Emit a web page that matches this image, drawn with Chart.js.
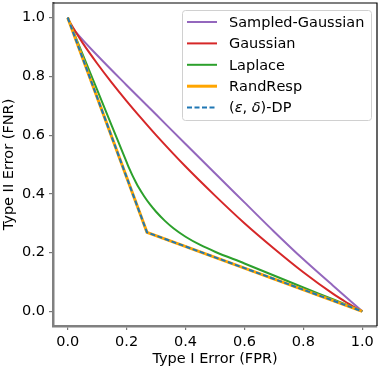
<!DOCTYPE html>
<html lang="en">
<head>
    <meta charset="UTF-8">
    <script src="https://cdn.jsdelivr.net/npm/chart.js"></script>
    <title>Trade-off curves</title>
    <style>
      body { margin: 0; background: #fff; }
      #wrap { width: 380px; height: 368px; }
    </style>
</head>
<body>
    <div id="wrap">
      <canvas id="myChart" width="380" height="368"></canvas>
    </div>

    <script>
      // values
      const sgX = [0, 0.01, 0.03, 0.1, 0.2, 0.3, 0.4, 0.5, 0.6, 0.7, 0.8, 0.9, 1];
      const sgY = [1, 0.975, 0.948, 0.872, 0.770, 0.670, 0.570, 0.470, 0.371, 0.272, 0.177, 0.088, 0];

      const gaussX = [0, 0.005, 0.01, 0.02, 0.05, 0.1, 0.15, 0.2, 0.25, 0.3, 0.4, 0.5, 0.6, 0.7, 0.8, 0.9, 0.95, 0.98, 0.99, 1];
      const gaussY = [1, 0.989, 0.980, 0.963, 0.915, 0.844, 0.778, 0.716, 0.657, 0.600, 0.493, 0.394, 0.300, 0.214, 0.133, 0.060, 0.028, 0.010, 0.005, 0];

      const lapX = [0, 0.05, 0.1, 0.15, 0.2, 0.21, 0.22, 0.23, 0.24, 0.26, 0.28, 0.3, 0.33, 0.36, 0.4, 0.45, 0.5, 0.6, 0.7, 0.8, 0.9, 1];
      const lapY = [1, 0.877, 0.754, 0.631, 0.508, 0.484, 0.462, 0.442, 0.423, 0.391, 0.363, 0.339, 0.308, 0.282, 0.254, 0.226, 0.203, 0.163, 0.122, 0.081, 0.041, 0];

      const rrX = [0, 0.269, 1];
      const rrY = [1, 0.269, 0];

      const dpX = [0, 0.269, 1];
      const dpY = [1, 0.269, 0];

      const xTicks = [0, 0.2, 0.4, 0.6, 0.8, 1.0];
      const yTicks = [0, 0.2, 0.4, 0.6, 0.8, 1.0];

      const seriesNames = ['Sampled-Gaussian', 'Gaussian', 'Laplace', 'RandResp', '(\u03b5, \u03b4)-DP'];
      const seriesColors = ['#9467bd', '#d62728', '#2ca02c', '#ffa500', '#1f77b4'];

      function pts(xs, ys) {
        return xs.map((x, i) => ({ x: x, y: ys[i] }));
      }

      const FONT = 'DejaVu Sans';
      Chart.defaults.font.family = FONT;
      Chart.defaults.color = '#000';

      // top and right spines
      const frame = {
        id: 'frame',
        afterDatasetsDraw(chart) {
          const { ctx, chartArea: a } = chart;
          ctx.save();
          ctx.strokeStyle = '#000';
          ctx.lineWidth = 1.2;
          ctx.beginPath();
          ctx.moveTo(a.left, a.top);
          ctx.lineTo(a.right, a.top);
          ctx.lineTo(a.right, a.bottom);
          ctx.stroke();
          ctx.restore();
        }
      };

      // greek letters are set in italic like matplotlib mathtext
      function drawLabel(ctx, text, x, y) {
        let cx = x;
        for (const ch of text) {
          const greek = /[\u0370-\u03ff]/.test(ch);
          ctx.font = (greek ? 'italic ' : '') + '14.5px "' + FONT + '"';
          ctx.fillText(ch, cx, y);
          cx += ctx.measureText(ch).width;
        }
      }

      // legend box in the upper right corner of the plot
      const legendBox = {
        id: 'legendBox',
        afterDraw(chart) {
          const ctx = chart.ctx;
          const a = chart.chartArea;
          const w = 189, h = 110;
          const x0 = a.right - 6 - w, y0 = a.top + 7;
          ctx.save();
          ctx.fillStyle = 'rgba(255,255,255,0.85)';
          ctx.strokeStyle = '#d0d0d0';
          ctx.lineWidth = 1;
          ctx.beginPath();
          ctx.roundRect(x0 + 0.5, y0 + 0.5, w, h, 3);
          ctx.fill();
          ctx.stroke();
          ctx.textBaseline = 'middle';
          ctx.fillStyle = '#000';
          chart.data.datasets.forEach((ds, i) => {
            const y = y0 + 12 + i * 21.4;
            ctx.strokeStyle = ds.borderColor;
            ctx.lineWidth = ds.borderWidth;
            ctx.setLineDash(ds.borderDash || []);
            ctx.beginPath();
            ctx.moveTo(x0 + 5, y);
            ctx.lineTo(x0 + 35, y);
            ctx.stroke();
            ctx.setLineDash([]);
            drawLabel(ctx, ds.label, x0 + 47, y + 1);
          });
          ctx.restore();
        }
      };

      const axisCommon = {
        type: 'linear',
        min: -0.05,
        max: 1.05,
        grid: { drawOnChartArea: false, drawTicks: true, tickLength: 4, color: '#777', lineWidth: 1.2 },
        border: { display: true, color: '#808080', width: 2.5 },
        ticks: { font: { size: 14.5 }, color: '#000', padding: 4, callback: (v) => v.toFixed(1) }
      };

      new Chart(document.getElementById('myChart'), {
        type: 'line',
        data: {
          datasets: [
            { label: seriesNames[0], data: pts(sgX, sgY), borderColor: seriesColors[0], borderWidth: 2, cubicInterpolationMode: 'monotone', order: 5 },
            { label: seriesNames[1], data: pts(gaussX, gaussY), borderColor: seriesColors[1], borderWidth: 2, cubicInterpolationMode: 'monotone', order: 4 },
            { label: seriesNames[2], data: pts(lapX, lapY), borderColor: seriesColors[2], borderWidth: 2, cubicInterpolationMode: 'monotone', order: 3 },
            { label: seriesNames[3], data: pts(rrX, rrY), borderColor: seriesColors[3], borderWidth: 3, tension: 0, order: 2 },
            { label: seriesNames[4], data: pts(dpX, dpY), borderColor: seriesColors[4], borderWidth: 2, borderDash: [5, 2.5], tension: 0, order: 1 }
          ]
        },
        options: {
          responsive: false,
          animation: false,
          elements: { point: { radius: 0 } },
          layout: { padding: { top: 3, right: 3, left: 0, bottom: 0 } },
          plugins: { legend: { display: false }, tooltip: { enabled: false } },
          scales: {
            x: Object.assign({}, axisCommon, {
              position: 'bottom',
              afterBuildTicks: (s) => { s.ticks = xTicks.map(v => ({ value: v })); },
              afterFit: (s) => { s.height = 42; s.paddingLeft = 0; s.paddingRight = 0; },
              title: { display: true, text: 'Type I Error (FPR)', font: { size: 14.5 }, padding: { top: 0, bottom: 0 } }
            }),
            y: Object.assign({}, axisCommon, {
              position: 'left',
              afterBuildTicks: (s) => { s.ticks = yTicks.map(v => ({ value: v })); },
              afterFit: (s) => { s.width = 53; s.paddingTop = 0; s.paddingBottom = 0; },
              title: { display: true, text: 'Type II Error (FNR)', font: { size: 14.5 }, padding: { top: 1, bottom: 0 } }
            })
          }
        },
        plugins: [frame, legendBox]
      });
    </script>
</body>
</html>
